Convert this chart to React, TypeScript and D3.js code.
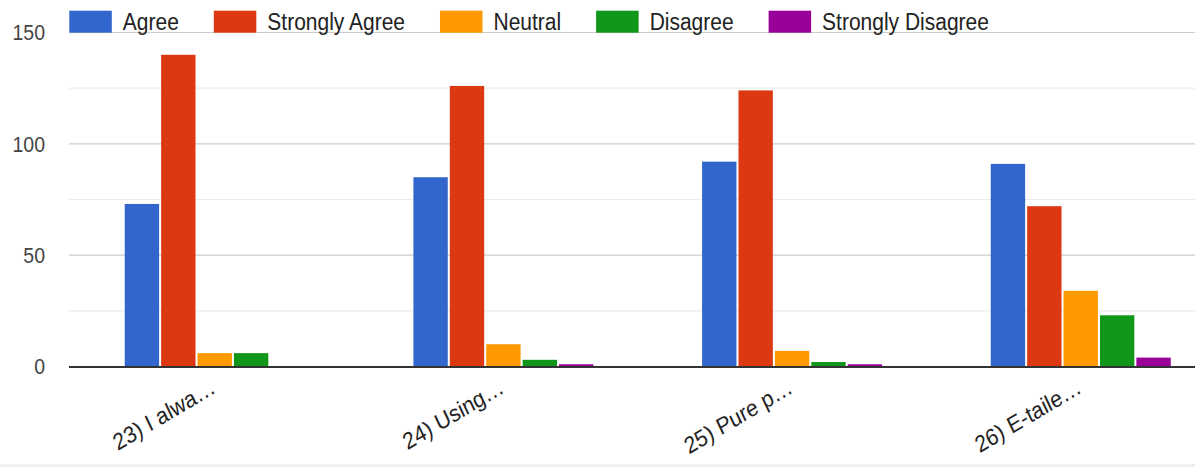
import React, { useEffect, useRef } from 'react';
import * as d3 from 'd3';

const categories = ['23) I alwa…', '24) Using…', '25) Pure p…', '26) E-taile…'];
const seriesNames = ['Agree', 'Strongly Agree', 'Neutral', 'Disagree', 'Strongly Disagree'];
const agree = [73, 85, 92, 91];
const stronglyAgree = [140, 126, 124, 72];
const neutral = [6, 10, 7, 34];
const disagree = [6, 3, 2, 23];
const stronglyDisagree = [0, 1, 1, 4];
const seriesColors = ['#3366cc', '#dc3912', '#ff9900', '#109618', '#990099'];
const majorTicks = [0, 50, 100, 150];
const minorTicks = [25, 75, 125];

const W = 1195;
const H = 467;
const FONT = '"Liberation Sans", Arial, sans-serif';
const STRETCH = 1.12;

export default function App() {
  const ref = useRef<SVGSVGElement>(null);

  useEffect(() => {
    const svg = d3.select(ref.current);
    svg.selectAll('*').remove();

    const seriesValues = [agree, stronglyAgree, neutral, disagree, stronglyDisagree];
    const plotLeft = 69;
    const y = d3.scaleLinear().domain([0, 150]).range([366.5, 32.5]);
    const x = d3.scaleBand<string>().domain(categories).range([70.4, 70.4 + 4 * 288.67]);
    const inner = d3.scaleBand<string>().domain(seriesNames).range([-90, 90]).paddingInner(0.056);

    // bottom band
    svg.append('rect').attr('x', 0).attr('y', 464).attr('width', W).attr('height', 3).attr('fill', '#efefef');

    // gridlines
    svg.append('g').selectAll('line').data(minorTicks).join('line')
      .attr('x1', plotLeft).attr('x2', W)
      .attr('y1', d => y(d)).attr('y2', d => y(d))
      .attr('stroke', '#ebebeb').attr('stroke-width', 1.2);
    svg.append('g').selectAll('line').data(majorTicks.filter(d => d !== 0)).join('line')
      .attr('x1', plotLeft).attr('x2', W)
      .attr('y1', d => y(d)).attr('y2', d => y(d))
      .attr('stroke', '#cccccc').attr('stroke-width', 1.2);

    // y tick labels
    svg.append('g').selectAll('text').data(majorTicks).join('text')
      .attr('transform', d => `translate(45,${y(d)}) scale(1,${STRETCH})`)
      .attr('dy', '0.36em')
      .attr('text-anchor', 'end')
      .attr('font-family', FONT).attr('font-size', 19.5).attr('fill', '#444')
      .text(d => String(d));

    // bars
    const groups = svg.append('g').selectAll('g').data(categories).join('g')
      .attr('transform', c => `translate(${(x(c) as number) + x.bandwidth() / 2},0)`);
    groups.selectAll('rect')
      .data((c, ci) => seriesNames.map((s, si) => ({ s, si, v: seriesValues[si][ci] })))
      .join('rect')
      .attr('x', d => inner(d.s) as number)
      .attr('width', inner.bandwidth())
      .attr('y', d => y(d.v))
      .attr('height', d => y(0) - y(d.v))
      .attr('fill', d => seriesColors[d.si]);

    // zero line
    svg.append('line').attr('x1', plotLeft).attr('x2', W)
      .attr('y1', y(0) + 0.5).attr('y2', y(0) + 0.5)
      .attr('stroke', '#333').attr('stroke-width', 2);

    // x labels
    svg.append('g').selectAll('text').data(categories).join('text')
      .attr('transform', c => `translate(${(x(c) as number) + x.bandwidth() / 2 + 2},392) scale(1,${STRETCH}) rotate(-28)`)
      .attr('text-anchor', 'end')
      .attr('font-family', FONT).attr('font-size', 21).attr('fill', '#222')
      .text(c => c);

    // legend
    const legend = svg.append('g');
    let lx = 69.3;
    seriesNames.forEach((name, i) => {
      legend.append('rect').attr('x', lx).attr('y', 10.7).attr('width', 42.5).attr('height', 22)
        .attr('fill', seriesColors[i]);
      const t = legend.append('text')
        .attr('transform', `translate(${lx + 42.5 + 11},30) scale(1,${STRETCH})`)
        .attr('font-family', FONT).attr('font-size', 21).attr('fill', '#222')
        .text(name);
      const len = (t.node() as SVGTextElement).getComputedTextLength();
      lx = lx + 42.5 + 11 + len + 35;
    });
  }, []);

  return (
    <svg
      ref={ref}
      width={W}
      height={H}
      style={{ position: 'absolute', left: 0, top: 0, background: '#fff' }}
    />
  );
}
